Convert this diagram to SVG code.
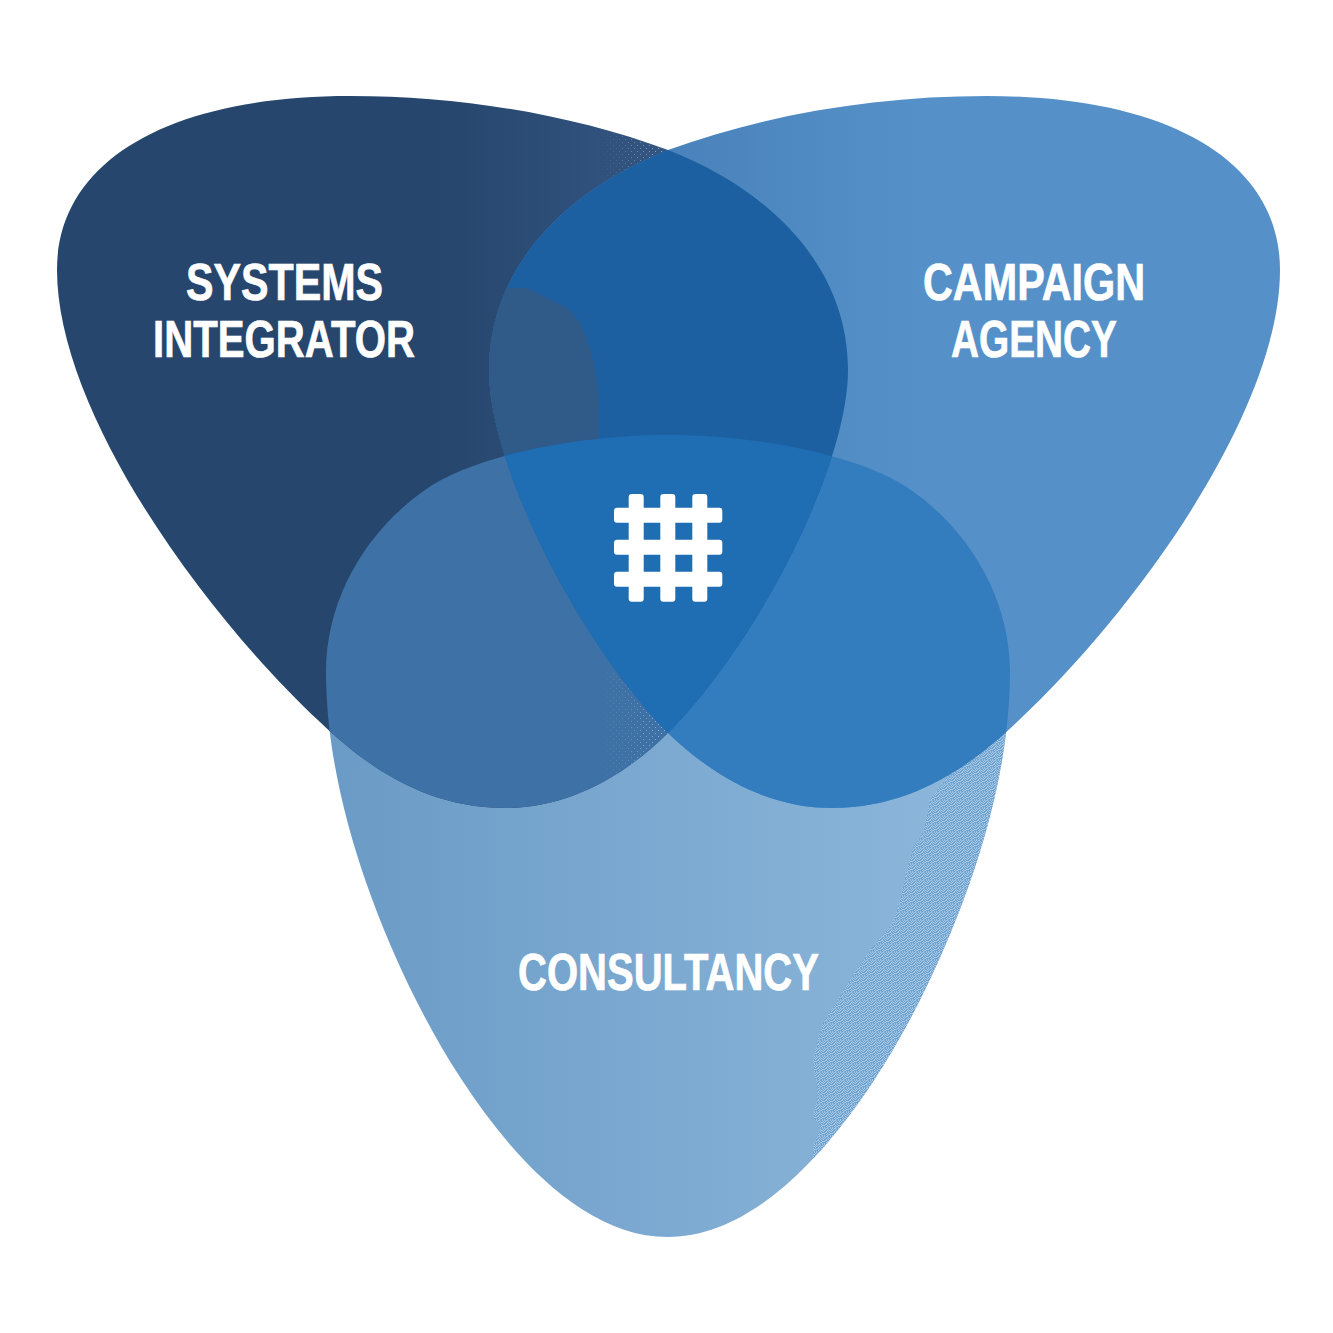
<svg xmlns="http://www.w3.org/2000/svg" width="1333" height="1333" viewBox="0 0 1333 1333">
<style>
.t{font-family:"Liberation Sans",Arial,sans-serif;font-weight:700;font-size:52px;fill:#fff;stroke:#fff;stroke-width:.7px}
.g{fill:#fff}
</style>
<defs>
<path id="L" d="M350,96 C460,96 570,114 668,150 C775,192 848,270 848,370 C848,465 760,640 668,733 C620,780 565,808 505,808 C420,808 360,760 320,722 C200,610 57,410 57,270 C57,160 170,96 350,96 Z"/>
<path id="R" transform="translate(1337,0) scale(-1,1)" d="M350,96 C460,96 570,114 669,150 C775,192 848,270 848,370 C848,465 760,640 669,733 C620,780 565,808 505,808 C420,808 360,760 320,722 C200,610 57,410 57,270 C57,160 170,96 350,96 Z"/>
<path id="B" d="M668,435 C766,435 866,458 911,490 C971,532 1010,600 1010,672 C1010,780 970,900 920,1000 C875,1090 780,1237 668,1237 C556,1237 461,1090 416,1000 C366,900 326,780 326,672 C326,600 365,532 425,490 C470,458 570,435 668,435 Z"/>
<clipPath id="cL"><use href="#L"/></clipPath>
<clipPath id="cR"><use href="#R"/></clipPath>
<clipPath id="cB"><use href="#B"/></clipPath>
<linearGradient id="gL" gradientUnits="userSpaceOnUse" x1="440" y1="0" x2="670" y2="0"><stop offset="0" stop-color="#26466D"/><stop offset="1" stop-color="#345682"/></linearGradient>
<linearGradient id="gR" gradientUnits="userSpaceOnUse" x1="667" y1="0" x2="417" y2="0"><stop offset="0" stop-color="#4A82BB"/><stop offset="1" stop-color="#5591C8"/></linearGradient>
<linearGradient id="gB" gradientUnits="userSpaceOnUse" x1="330" y1="0" x2="950" y2="0"><stop offset="0" stop-color="#6A9BC6"/><stop offset="1" stop-color="#8CB6DA"/></linearGradient>
<linearGradient id="fade" gradientUnits="userSpaceOnUse" x1="600" y1="0" x2="668" y2="0"><stop offset="0" stop-color="#000"/><stop offset="1" stop-color="#fff"/></linearGradient>
<mask id="mFade" maskUnits="userSpaceOnUse" x="590" y="110" width="90" height="700"><rect x="590" y="110" width="90" height="700" fill="url(#fade)"/></mask>
<pattern id="dith" width="8" height="8" patternUnits="userSpaceOnUse"><rect width="8" height="8" fill="#6EA2D1"/><path fill="#A8C8E4" d="M0,0h1v1h-1zM2,0h2v1h-2zM6,0h1v1h-1zM1,1h1v1h-1zM4,1h1v1h-1zM7,1h1v1h-1zM0,2h1v1h-1zM3,2h1v1h-1zM5,2h2v1h-2zM2,3h1v1h-1zM4,3h1v1h-1zM7,3h1v1h-1zM1,4h2v1h-2zM5,4h1v1h-1zM0,5h1v1h-1zM3,5h1v1h-1zM6,5h2v1h-2zM2,6h1v1h-1zM4,6h2v1h-2zM0,7h1v1h-1zM3,7h1v1h-1zM6,7h1v1h-1z"/></pattern>
<pattern id="dots" width="6" height="6" patternUnits="userSpaceOnUse"><rect x="1" y="1" width="1" height="1" fill="#9DB4CE"/><rect x="4" y="4" width="1" height="1" fill="#9DB4CE"/></pattern>
</defs>
<rect width="1333" height="1333" fill="#fff"/>
<g id="petal-consultancy"><use href="#B" fill="url(#gB)"/>
<path clip-path="url(#cB)" fill="url(#dith)" d="M947,770 L947,777 L930,800 L923,833 L913,847 L905,877 L900,900 L893,923 L870,950 L852,977 L823,1023 L818,1038 L813,1063 L818,1093 L813,1117 L821,1127 L813,1147 L813,1165 L1020,1165 L1020,720 Z"/></g>
<g id="petal-systems"><use href="#L" fill="url(#gL)"/>
<g clip-path="url(#cL)"><path mask="url(#mFade)" fill="url(#dots)" d="M600,120 L670,120 L670,180 L600,180 Z"/></g></g>
<g id="petal-campaign"><use href="#R" fill="url(#gR)"/></g>
<g id="overlap-systems-consultancy" clip-path="url(#cL)"><use href="#B" fill="#3E72A6"/><path mask="url(#mFade)" fill="url(#dots)" d="M600,670 L670,670 L670,800 L600,800 Z"/></g>
<g id="overlap-campaign-consultancy" clip-path="url(#cR)"><use href="#B" fill="#337DBF"/></g>
<g id="overlap-systems-campaign" clip-path="url(#cL)"><use href="#R" fill="#1C60A2"/></g>
<g id="overlap-patch" clip-path="url(#cR)"><path d="M470,287 L527,288 L567,308 C578,318 584,328 587,340 C594,360 599,385 599,410 L599,440 L495,456 Z" fill="#305A88"/></g>
<g id="overlap-all" clip-path="url(#cL)"><g clip-path="url(#cR)"><use href="#B" fill="#1F6DB2"/></g></g>
<g id="label-systems"><text class="t" x="186" y="299.5" textLength="197" lengthAdjust="spacingAndGlyphs">SYSTEMS</text><text class="t" x="153" y="356.5" textLength="262" lengthAdjust="spacingAndGlyphs">INTEGRATOR</text></g>
<g id="label-campaign"><text class="t" x="923" y="299.5" textLength="222" lengthAdjust="spacingAndGlyphs">CAMPAIGN</text><text class="t" x="951" y="356.5" textLength="166" lengthAdjust="spacingAndGlyphs">AGENCY</text></g>
<g id="label-consultancy"><text class="t" x="518" y="989.5" textLength="301" lengthAdjust="spacingAndGlyphs">CONSULTANCY</text></g>
<g id="icon-grid">
<rect class="g" x="628.7" y="494" width="15" height="107.7" rx="3"/><rect class="g" x="660.3" y="494" width="15" height="107.7" rx="3"/><rect class="g" x="692.3" y="494" width="15" height="107.7" rx="3"/>
<rect class="g" x="614" y="507.7" width="108.3" height="15" rx="3"/><rect class="g" x="614" y="539.7" width="108.3" height="15" rx="3"/><rect class="g" x="614" y="571.7" width="108.3" height="15" rx="3"/>
</g>
</svg>
